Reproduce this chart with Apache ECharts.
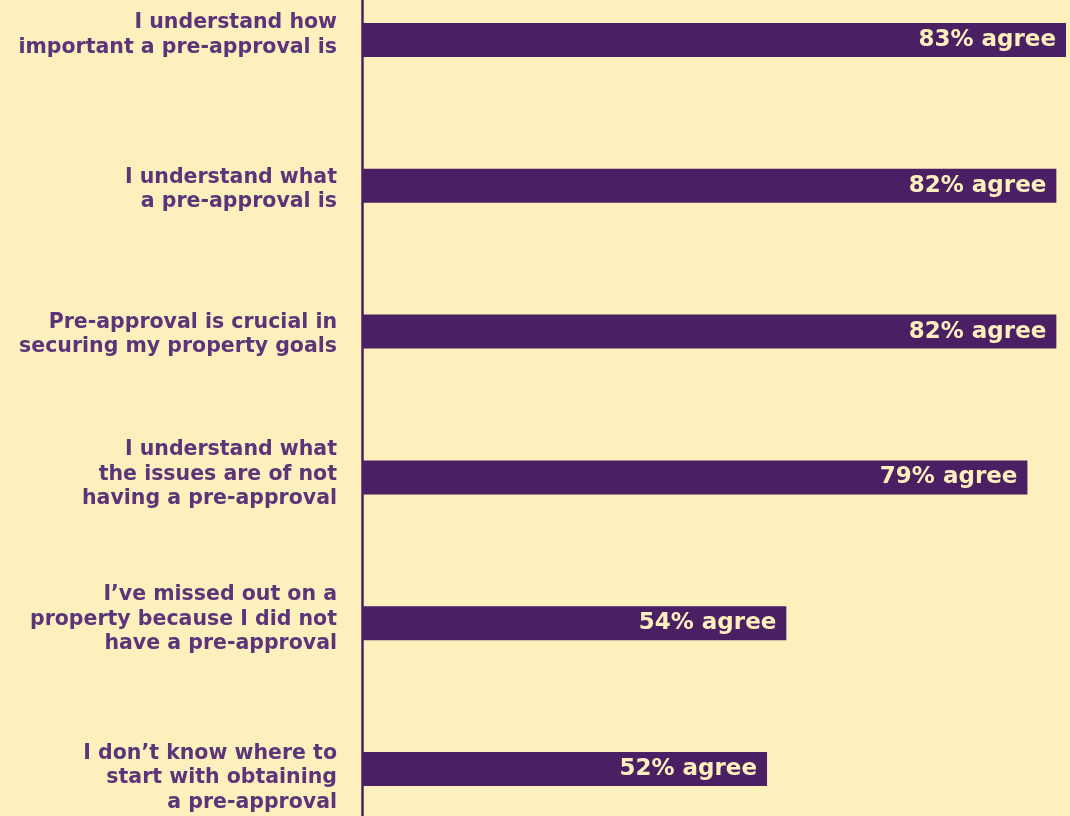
<!DOCTYPE html>
<html>
<head>
<meta charset="utf-8">
<title>Pre-approval attitudes</title>
<script src="https://cdn.jsdelivr.net/npm/echarts@6/dist/echarts.min.js"></script>
<style>
  html, body { margin: 0; padding: 0; background: #FEF0BC; }
  #chart { width: 1070px; height: 816px; }
</style>
</head>
<body>
<div id="chart"></div>
<script>
// Survey statements (top to bottom) and the share who agree with each
const statements = [
  'I understand how\nimportant a pre-approval is',
  'I understand what\na pre-approval is',
  'Pre-approval is crucial in\nsecuring my property goals',
  'I understand what\nthe issues are of not\nhaving a pre-approval',
  'I\u2019ve missed out on a\nproperty because I did not\nhave a pre-approval',
  'I don\u2019t know where to\nstart with obtaining\na pre-approval'
];
const agreePct = [83, 82, 82, 79, 54, 52];
// small vertical nudges (px, negative = up) for each statement block
const labelNudge = [-5, 4, 3, -3, -4, 9];

const PURPLE = '#4A1F63';
const TEXT_PURPLE = '#5B347A';
const CREAM = '#FEF0BC';
const FONT = 'DejaVu Sans';

// spacer lines: an empty line of height 2|n| above (down shift) or below (up shift)
const spacerRich = {};
labelNudge.forEach((n, i) => {
  spacerRich['sp' + i] = { fontSize: 1, lineHeight: Math.max(1, 2 * Math.abs(n)) };
});

const chart = echarts.init(document.getElementById('chart'));
chart.setOption({
  backgroundColor: CREAM,
  animation: false,
  grid: [
    { left: 362, right: 4, top: 40, bottom: 47, containLabel: false },
    { left: 362, right: 4, top: 0, bottom: 0, containLabel: false }
  ],
  xAxis: [
    { type: 'value', gridIndex: 0, min: 10, max: 83, show: false },
    { type: 'value', gridIndex: 1, min: 0, max: 1, show: false }
  ],
  yAxis: [
    {
      type: 'category',
      gridIndex: 0,
      inverse: true,
      boundaryGap: false,
      data: statements,
      axisLine: { show: false },
      axisTick: { show: false },
      splitLine: { show: false },
      axisLabel: {
        margin: 25,
        color: TEXT_PURPLE,
        fontFamily: FONT,
        fontWeight: 'bold',
        fontSize: 20.5,
        lineHeight: 24.5,
        align: 'right',
        formatter: (value, idx) => {
          const n = labelNudge[idx];
          const sp = '{sp' + idx + '| }';
          return n < 0 ? value + '\n' + sp : sp + '\n' + value;
        },
        rich: spacerRich
      }
    },
    {
      // full-height baseline for the bars
      type: 'value',
      gridIndex: 1,
      min: 0,
      max: 1,
      axisLine: { show: true, lineStyle: { color: PURPLE, width: 2.5 } },
      axisTick: { show: false },
      axisLabel: { show: false },
      splitLine: { show: false }
    }
  ],
  series: [{
    type: 'bar',
    xAxisIndex: 0,
    yAxisIndex: 0,
    data: agreePct,
    barWidth: 34,
    itemStyle: { color: PURPLE },
    label: {
      show: true,
      position: 'insideRight',
      distance: 10,
      formatter: '{c}% agree',
      color: CREAM,
      fontFamily: FONT,
      fontWeight: 'bold',
      fontSize: 23
    }
  }]
});
</script>
</body>
</html>
